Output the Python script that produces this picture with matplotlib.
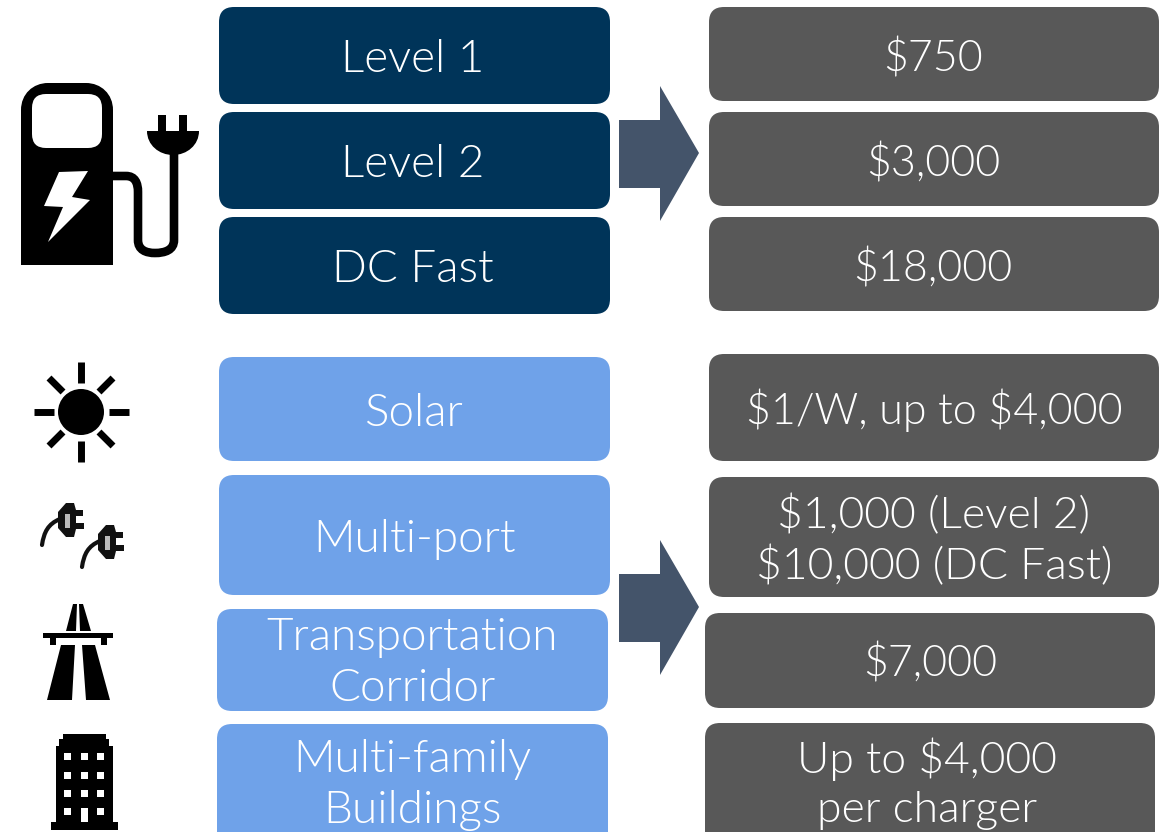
import matplotlib
matplotlib.use("Agg")
import matplotlib.pyplot as plt
from matplotlib.patches import FancyBboxPatch, Polygon, Circle, Rectangle, PathPatch
from matplotlib.path import Path

charger_types = ["Level 1", "Level 2", "DC Fast"]
charger_costs = ["$750", "$3,000", "$18,000"]
project_types = ["Solar", "Multi-port", "Transportation\nCorridor", "Multi-family\nBuildings"]
project_costs = ["$1/W, up to $4,000", "$1,000 (Level 2)\n$10,000 (DC Fast)", "$7,000", "Up to $4,000\nper charger"]

DARK = "#003459"
LIGHT = "#6FA2E9"
GREY = "#585858"
ARROW = "#44546A"

plt.rcParams["font.family"] = ["Lato", "DejaVu Sans"]

fig = plt.figure(figsize=(11.68, 8.32), dpi=100)
ax = fig.add_axes([0, 0, 1, 1])
ax.set_xlim(0, 1168)
ax.set_ylim(832, 0)
ax.axis("off")


def box(x0, y0, x1, y1, color, label, text_x, text_y, size=33):
    pad = 15
    ax.add_patch(FancyBboxPatch((x0 + pad, y0 + pad), x1 - x0 - 2 * pad, y1 - y0 - 2 * pad,
                                boxstyle=f"round,pad={pad},rounding_size={pad}",
                                fc=color, ec="none"))
    ax.text(text_x, text_y, label, color="white", fontsize=size, ha="center", va="center",
            weight=300, linespacing=1.31, parse_math=False)


def arrow(top):
    pts = [(619, top + 34), (660, top + 34), (660, top), (699, top + 67),
           (660, top + 135), (660, top + 102), (619, top + 102)]
    ax.add_patch(Polygon(pts, fc=ARROW, ec="none"))


# top group
dark_y = [(7, 104), (112, 209), (217, 314)]
grey_y = [(7, 101), (112, 206), (217, 311)]
for (y0, y1), label in zip(dark_y, charger_types):
    box(219, y0, 610, y1, DARK, label, 413, (y0 + y1) / 2 + 4)
for (y0, y1), label in zip(grey_y, charger_costs):
    box(709, y0, 1159, y1, GREY, label, 933, (y0 + y1) / 2 + 5, size=31)

# bottom group
light_pos = [(219, 357, 610, 461), (219, 475, 610, 595), (217, 609, 608, 711), (217, 724, 608, 850)]
light_text_y = [414, 540, 663, 785]
for (x0, y0, x1, y1), ty, label in zip(light_pos, light_text_y, project_types):
    box(x0, y0, x1, y1, LIGHT, label, (x0 + x1) / 2 + 0, ty)

cost_pos = [(709, 354, 1159, 461), (709, 477, 1159, 597), (705, 613, 1155, 708), (705, 723, 1155, 850)]
cost_text_y = [410, 541, 664, 784]
cost_x = [934, 934, 930, 927]
cost_size = [31, 32, 31, 32]
for (x0, y0, x1, y1), tx, ty, sz, label in zip(cost_pos, cost_x, cost_text_y, cost_size, project_costs):
    box(x0, y0, x1, y1, GREY, label, tx, ty, size=sz)

arrow(86)
arrow(540)

# charging station icon
M, L, C = Path.MOVETO, Path.LINETO, Path.CURVE4
body = Path([(21, 265), (21, 110), (21, 94), (33, 83), (48, 83), (86, 83), (101, 83), (113, 94),
             (113, 110), (113, 265), (21, 265)],
            [M, L, C, C, C, L, C, C, C, L, L])
ax.add_patch(PathPatch(body, fc="black", ec="none"))
ax.add_patch(FancyBboxPatch((46, 108), 42, 26, boxstyle="round,pad=14,rounding_size=14", fc="white", ec="none"))
bolt = [(59, 172), (88, 171), (72, 197), (90, 200), (48, 242), (63, 207), (44, 206)]
ax.add_patch(Polygon(bolt, fc="white", ec="none"))
cable = Path([(113, 176), (126, 176), (135, 176), (138, 183), (138, 192), (138, 240),
              (138, 250), (146, 253), (155, 253), (165, 253), (174, 250), (174, 240), (174, 150)],
             [M, L, C, C, C, L, C, C, C, C, C, C, L])
ax.add_patch(PathPatch(cable, fc="none", ec="black", lw=6.2, capstyle="butt"))
ax.add_patch(Rectangle((158, 115), 8, 18, fc="black", ec="none"))
ax.add_patch(Rectangle((179, 115), 8, 18, fc="black", ec="none"))
plug = Path([(147, 131), (199, 131), (199, 145), (187, 155), (173, 155), (159, 155), (147, 145), (147, 131)],
            [M, L, C, C, C, C, C, C])
ax.add_patch(PathPatch(plug, fc="black", ec="none"))

# sun icon
sun_x, sun_y = 81, 412
ax.add_patch(Circle((sun_x, sun_y), 23, fc="black", ec="none"))
for x0, y0, x1, y1 in [(81, 362, 81, 383), (81, 441, 81, 462), (34, 412, 54, 412), (109, 412, 129, 412),
                       (49, 378, 63, 392), (99, 432, 113, 446), (113, 378, 99, 392), (49, 446, 63, 432)]:
    ax.plot([x0, x1], [y0, y1], color="black", lw=5, solid_capstyle="butt")


# multi-port icon
def small_plug(dx, dy):
    wire = Path([(42, 545), (44, 532), (48, 524), (60, 519)], [M, C, C, C])
    ax.add_patch(PathPatch(wire.transformed(matplotlib.transforms.Affine2D().translate(dx, dy)),
                           fc="none", ec="#111111", lw=3, capstyle="round"))
    head = [(58, 512), (66, 503), (74, 503), (76, 510), (83, 510), (83, 516), (76, 516), (76, 523),
            (84, 523), (84, 529), (76, 529), (74, 537), (66, 537), (58, 528)]
    ax.add_patch(Polygon([(x + dx, y + dy) for x, y in head], fc="#111111", ec="none"))
    ax.add_patch(Rectangle((65 + dx, 514 + dy), 5, 14, fc="#bbbbbb", ec="none"))


small_plug(0, 0)
small_plug(40, 22)

# highway icon
road = [[(73, 604), (77, 604), (76, 631), (66, 631)],
        [(79, 604), (83, 604), (91, 631), (80, 631)],
        [(61, 645), (75, 645), (72, 700), (47, 700)],
        [(82, 645), (95, 645), (110, 700), (86, 700)]]
for pts in road:
    ax.add_patch(Polygon(pts, fc="black", ec="none"))
ax.add_patch(Rectangle((43, 633), 70, 5, fc="black", ec="none"))
ax.add_patch(Rectangle((50, 637), 6, 8, fc="black", ec="none"))
ax.add_patch(Rectangle((101, 637), 6, 8, fc="black", ec="none"))

# building icon
ax.add_patch(Polygon([(63, 734), (106, 734), (106, 739), (109, 739), (109, 746), (113, 746), (113, 822),
                      (118, 822), (118, 830), (51, 830), (51, 822), (56, 822), (56, 746), (59, 746),
                      (59, 739), (63, 739)], fc="black", ec="none"))
for wx in [64, 81, 97]:
    for wy in [753, 772, 790, 808]:
        if wx == 81 and wy == 808:
            ax.add_patch(Rectangle((wx, wy), 7, 14, fc="white", ec="none"))
        else:
            ax.add_patch(Rectangle((wx, wy), 7, 7, fc="white", ec="none"))

fig.savefig("out.png", dpi=100)
